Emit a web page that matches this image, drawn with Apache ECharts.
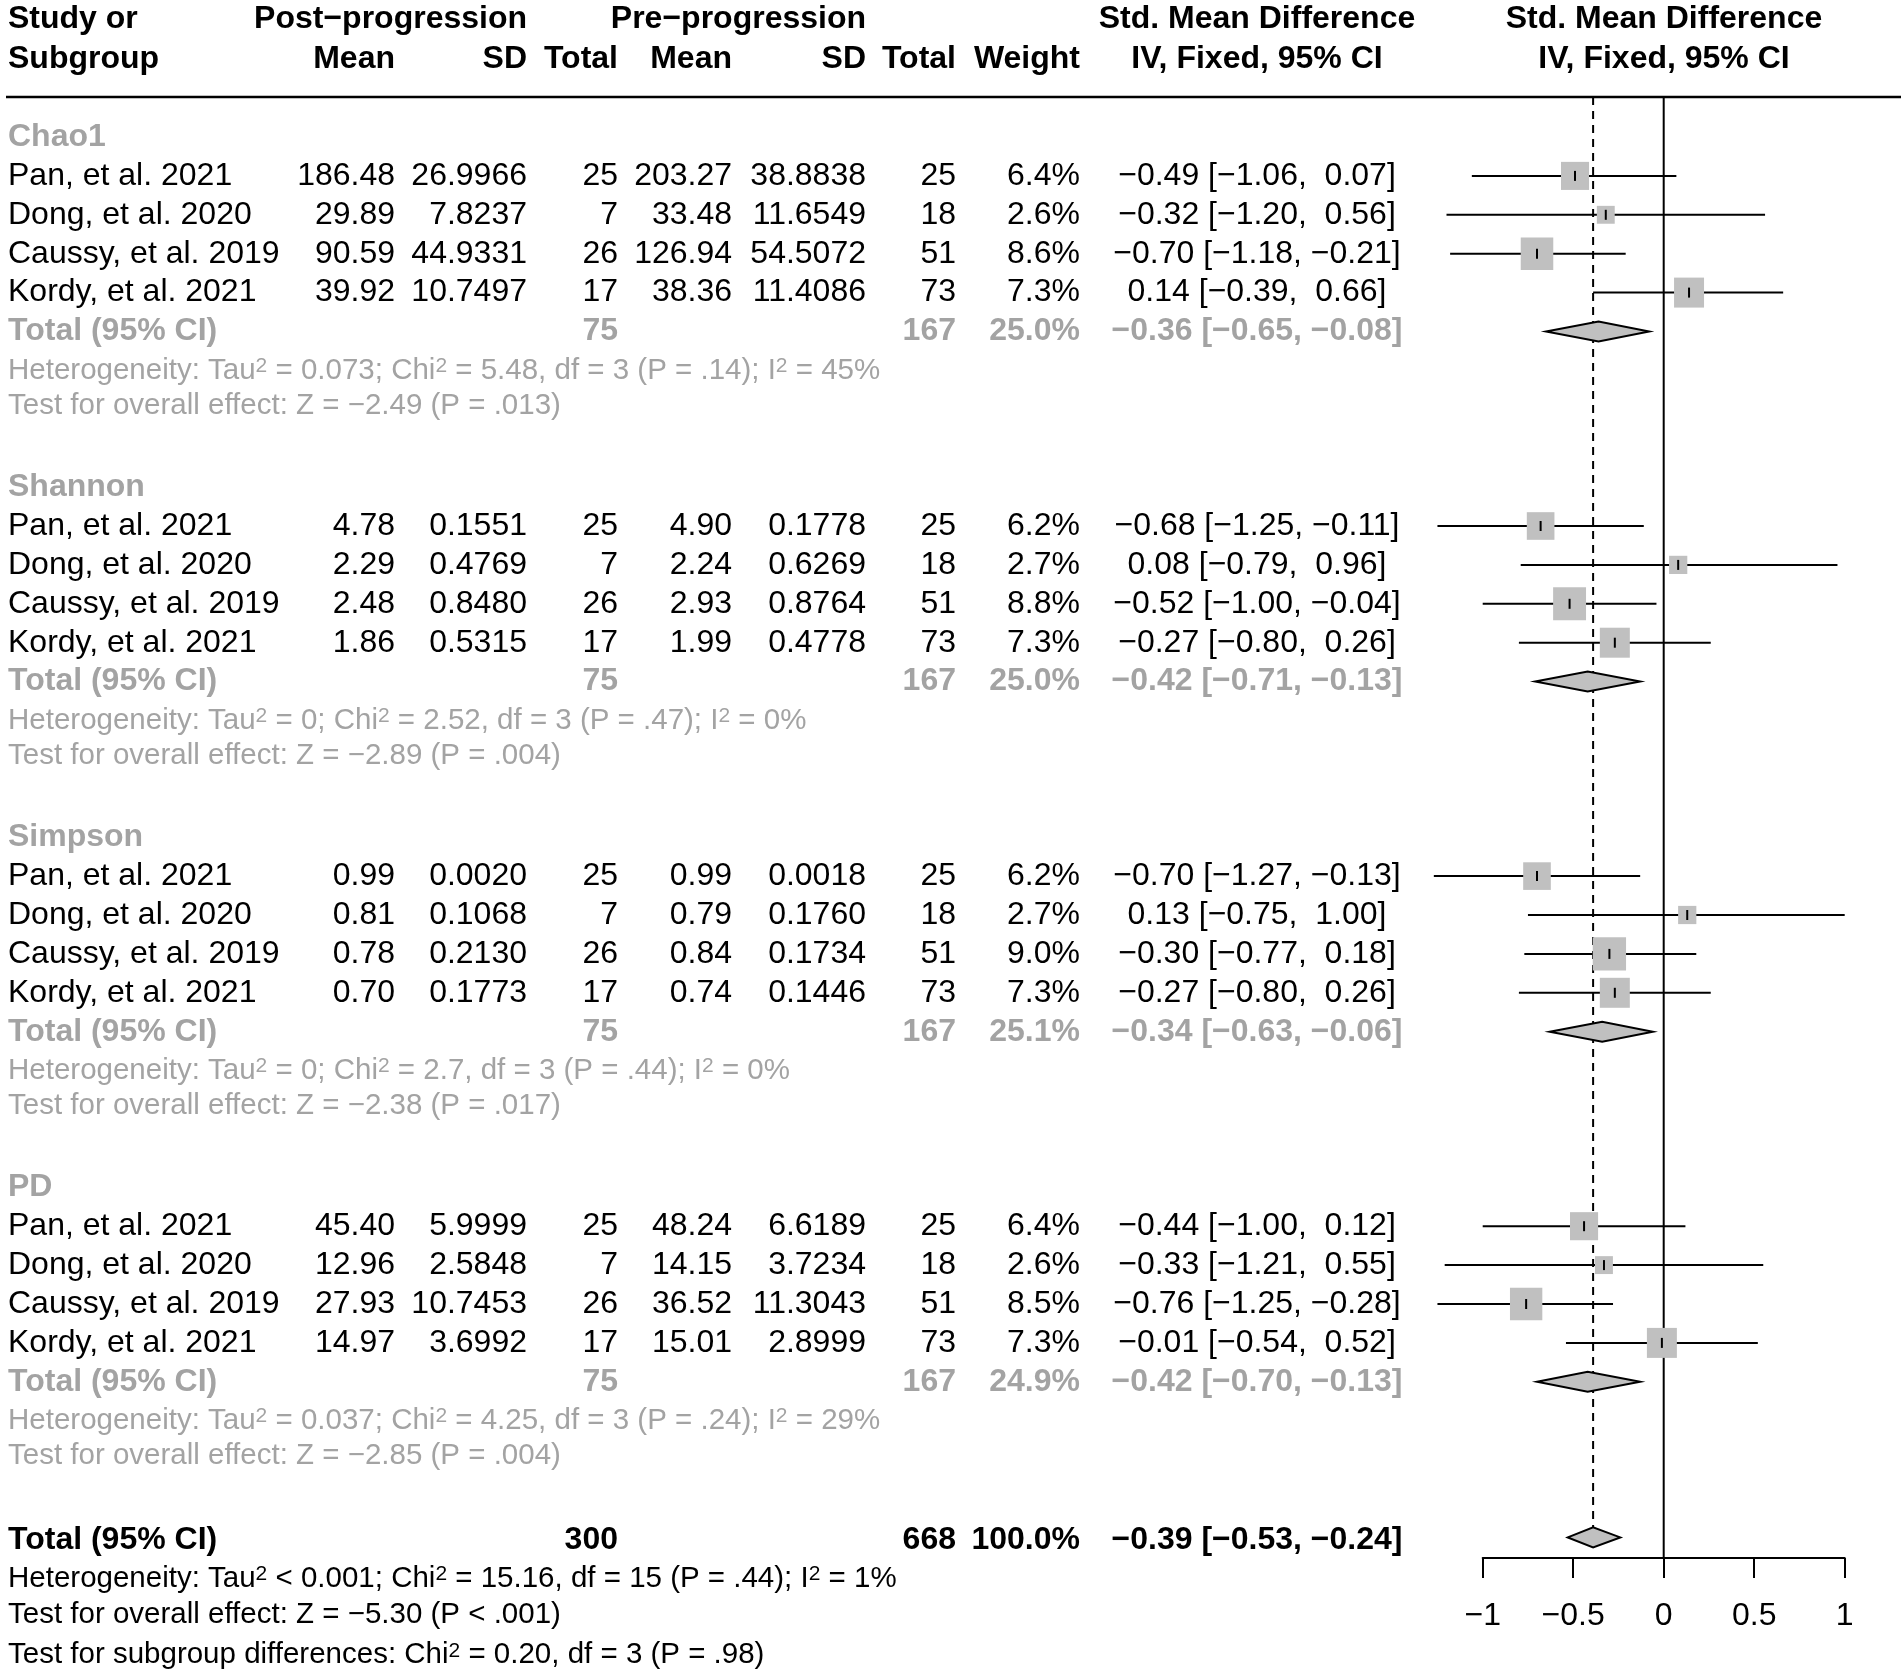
<!DOCTYPE html>
<html lang="en">
<head>
<meta charset="UTF-8" />
<title>Forest plot</title>
<style>
  html, body { margin: 0; padding: 0; background: #fff; }
  #main { width: 1901px; height: 1679px; }
</style>
</head>
<body>
<div id="main"></div>
<script src="https://cdn.jsdelivr.net/npm/echarts@6/dist/echarts.min.js"></script>
<script>
// ---- data ----
var groups = ["Chao1", "Shannon", "Simpson", "PD"];
var studies = ["Pan, et al. 2021", "Dong, et al. 2020", "Caussy, et al. 2019", "Kordy, et al. 2021"];

var postMean = [[186.48, 29.89, 90.59, 39.92], [4.78, 2.29, 2.48, 1.86], [0.99, 0.81, 0.78, 0.70], [45.40, 12.96, 27.93, 14.97]];
var postSD = [[26.9966, 7.8237, 44.9331, 10.7497], [0.1551, 0.4769, 0.8480, 0.5315], [0.0020, 0.1068, 0.2130, 0.1773], [5.9999, 2.5848, 10.7453, 3.6992]];
var postN = [25, 7, 26, 17];
var preMean = [[203.27, 33.48, 126.94, 38.36], [4.90, 2.24, 2.93, 1.99], [0.99, 0.79, 0.84, 0.74], [48.24, 14.15, 36.52, 15.01]];
var preSD = [[38.8838, 11.6549, 54.5072, 11.4086], [0.1778, 0.6269, 0.8764, 0.4778], [0.0018, 0.1760, 0.1734, 0.1446], [6.6189, 3.7234, 11.3043, 2.8999]];
var preN = [25, 18, 51, 73];
var weight = [[6.4, 2.6, 8.6, 7.3], [6.2, 2.7, 8.8, 7.3], [6.2, 2.7, 9.0, 7.3], [6.4, 2.6, 8.5, 7.3]];
var smd = [[-0.49, -0.32, -0.70, 0.14], [-0.68, 0.08, -0.52, -0.27], [-0.70, 0.13, -0.30, -0.27], [-0.44, -0.33, -0.76, -0.01]];
var smdLo = [[-1.06, -1.20, -1.18, -0.39], [-1.25, -0.79, -1.00, -0.80], [-1.27, -0.75, -0.77, -0.80], [-1.00, -1.21, -1.25, -0.54]];
var smdHi = [[0.07, 0.56, -0.21, 0.66], [-0.11, 0.96, -0.04, 0.26], [-0.13, 1.00, 0.18, 0.26], [0.12, 0.55, -0.28, 0.52]];

// subgroup totals
var groupWeight = [25.0, 25.0, 25.1, 24.9];
var groupEst = [-0.36, -0.42, -0.34, -0.42];
var groupLo = [-0.65, -0.71, -0.63, -0.70];
var groupHi = [-0.08, -0.13, -0.06, -0.13];
var groupTau2 = ["0.073", "0", "0", "0.037"];
var groupChi2 = ["5.48", "2.52", "2.7", "4.25"];
var groupDf = [3, 3, 3, 3];
var groupPhet = [".14", ".47", ".44", ".24"];
var groupI2 = [45, 0, 0, 29];
var groupZ = [-2.49, -2.89, -2.38, -2.85];
var groupPz = [".013", ".004", ".017", ".004"];

// overall
var overall = { n1: 300, n2: 668, weight: 100.0, est: -0.39, lo: -0.53, hi: -0.24 };
var overallHet = "Heterogeneity: Tau{s|2} < 0.001; Chi{s|2} = 15.16, df = 15 (P = .44); I{s|2} = 1%";
var overallTest = "Test for overall effect: Z = \u22125.30 (P < .001)";
var subgroupTest = "Test for subgroup differences: Chi{s|2} = 0.20, df = 3 (P = .98)";

var axisTicks = [-1, -0.5, 0, 0.5, 1];

// ---- layout ----
var W = 1901, H = 1679;
var ROW0 = 137, PITCH = 38.9;       // pixel y of row 0 and row pitch
var LINE_Y = 97, AXIS_Y = 1558;     // header rule and forest axis
var FONT = "'Liberation Sans', Arial, Helvetica, sans-serif";
var GREY = "#a3a3a3";
var COL = { study: 8, postMean: 395, postSD: 527, postN: 618, preMean: 732, preSD: 866, preN: 956, weight: 1080, smd: 1257, plot: 1664 };
var OVR = 36.08;                    // overall total row

function rowOf(px) { return (px - ROW0) / PITCH; }
function fmt(v, d) {
  var s = Math.abs(v).toFixed(d);
  return v < 0 ? "\u2212" + s : s;
}
function ciText(e, lo, hi) {
  var pad = function (v) { return (v >= 0 ? " " : "") + fmt(v, 2); };
  return fmt(e, 2) + " [" + pad(lo) + ", " + pad(hi) + "]";
}

var cells = [];
function cell(x, row, text, align, opt) {
  opt = opt || {};
  cells.push({ x: x, row: row, text: text, align: align, bold: !!opt.bold, color: opt.color || "#000", size: opt.size || 32 });
}

// header
var h1 = rowOf(19), h2 = rowOf(59);
var hb = { bold: true };
cell(COL.study, h1, "Study or", "left", hb);
cell(COL.postSD, h1, "Post\u2212progression", "right", hb);
cell(COL.preSD, h1, "Pre\u2212progression", "right", hb);
cell(COL.smd, h1, "Std. Mean Difference", "center", hb);
cell(COL.plot, h1, "Std. Mean Difference", "center", hb);
cell(COL.study, h2, "Subgroup", "left", hb);
cell(COL.postMean, h2, "Mean", "right", hb);
cell(COL.postSD, h2, "SD", "right", hb);
cell(COL.postN, h2, "Total", "right", hb);
cell(COL.preMean, h2, "Mean", "right", hb);
cell(COL.preSD, h2, "SD", "right", hb);
cell(COL.preN, h2, "Total", "right", hb);
cell(COL.weight, h2, "Weight", "right", hb);
cell(COL.smd, h2, "IV, Fixed, 95% CI", "center", hb);
cell(COL.plot, h2, "IV, Fixed, 95% CI", "center", hb);

var forest = [];   // [est, lo, hi, row, weight, kind] kind 0 = study, 1 = diamond
groups.forEach(function (g, gi) {
  var base = gi * 9;
  cell(COL.study, base, g, "left", { bold: true, color: GREY });
  var sum1 = 0, sum2 = 0;
  studies.forEach(function (s, si) {
    var r = base + 1 + si;
    cell(COL.study, r, s, "left");
    cell(COL.postMean, r, postMean[gi][si].toFixed(2), "right");
    cell(COL.postSD, r, postSD[gi][si].toFixed(4), "right");
    cell(COL.postN, r, String(postN[si]), "right");
    cell(COL.preMean, r, preMean[gi][si].toFixed(2), "right");
    cell(COL.preSD, r, preSD[gi][si].toFixed(4), "right");
    cell(COL.preN, r, String(preN[si]), "right");
    cell(COL.weight, r, weight[gi][si].toFixed(1) + "%", "right");
    cell(COL.smd, r, ciText(smd[gi][si], smdLo[gi][si], smdHi[gi][si]), "center");
    forest.push([smd[gi][si], smdLo[gi][si], smdHi[gi][si], r, weight[gi][si], 0]);
    sum1 += postN[si];
    sum2 += preN[si];
  });
  var tb = { bold: true, color: GREY };
  var tr = base + 5;
  cell(COL.study, tr, "Total (95% CI)", "left", tb);
  cell(COL.postN, tr, String(sum1), "right", tb);
  cell(COL.preN, tr, String(sum2), "right", tb);
  cell(COL.weight, tr, groupWeight[gi].toFixed(1) + "%", "right", tb);
  cell(COL.smd, tr, ciText(groupEst[gi], groupLo[gi], groupHi[gi]), "center", tb);
  forest.push([groupEst[gi], groupLo[gi], groupHi[gi], tr, 0, 1]);
  var hs = { color: GREY, size: 29.5 };
  cell(COL.study, base + 6.0, "Heterogeneity: Tau{s|2} = " + groupTau2[gi] + "; Chi{s|2} = " + groupChi2[gi] +
    ", df = " + groupDf[gi] + " (P = " + groupPhet[gi] + "); I{s|2} = " + groupI2[gi] + "%", "left", hs);
  cell(COL.study, base + 6.9, "Test for overall effect: Z = " + fmt(groupZ[gi], 2) + " (P = " + groupPz[gi] + ")", "left", hs);
});

// overall rows
var ob = { bold: true };
cell(COL.study, OVR, "Total (95% CI)", "left", ob);
cell(COL.postN, OVR, String(overall.n1), "right", ob);
cell(COL.preN, OVR, String(overall.n2), "right", ob);
cell(COL.weight, OVR, overall.weight.toFixed(1) + "%", "right", ob);
cell(COL.smd, OVR, ciText(overall.est, overall.lo, overall.hi), "center", ob);
forest.push([overall.est, overall.lo, overall.hi, OVR - 0.08, 0, 1]);
cell(COL.study, 37.06, overallHet, "left", { size: 29.5 });
cell(COL.study, 37.98, overallTest, "left", { size: 29.5 });
cell(COL.study, 39.03, subgroupTest, "left", { size: 29.5 });

// vertical reference lines: no effect, and overall estimate (dashed, stops at the diamond)
var refLines = [
  [0, rowOf(LINE_Y), rowOf(AXIS_Y), 0],
  [overall.est, rowOf(LINE_Y), OVR - 0.08 - 10 / PITCH, 1]
];

function renderCell(params, api) {
  var c = cells[params.dataIndex];
  var p = api.coord([api.value(0), api.value(1)]);
  var style = {
    text: c.text,
    font: (c.bold ? "bold " : "") + c.size + "px " + FONT,
    fill: c.color,
    align: c.align,
    verticalAlign: "middle",
    lineHeight: c.size,
    rich: {
      s: { font: Math.round(c.size * 0.72) + "px " + FONT, fill: c.color, lineHeight: 4, verticalAlign: "top" }
    }
  };
  return { type: "text", x: p[0], y: p[1], style: style };
}

function renderRef(params, api) {
  var a = api.coord([api.value(0), api.value(1)]);
  var b = api.coord([api.value(0), api.value(2)]);
  return {
    type: "line",
    shape: { x1: a[0], y1: a[1], x2: b[0], y2: b[1] },
    style: { stroke: "#000", lineWidth: 2, lineDash: api.value(3) ? [8, 6] : null }
  };
}

function renderForest(params, api) {
  var est = api.value(0), lo = api.value(1), hi = api.value(2), row = api.value(3);
  var c = api.coord([est, row]), a = api.coord([lo, row]), b = api.coord([hi, row]);
  if (api.value(5) === 0) {
    var side = 11.1 * Math.sqrt(api.value(4));
    return {
      type: "group",
      children: [
        { type: "line", shape: { x1: a[0], y1: a[1], x2: b[0], y2: b[1] }, style: { stroke: "#000", lineWidth: 2 } },
        { type: "rect", shape: { x: c[0] - side / 2, y: c[1] - side / 2, width: side, height: side }, style: { fill: "#c0c0c0" } },
        { type: "line", shape: { x1: c[0], y1: c[1] - 5, x2: c[0], y2: c[1] + 5 }, style: { stroke: "#000", lineWidth: 2 } }
      ]
    };
  }
  return {
    type: "polygon",
    shape: { points: [[a[0], a[1]], [c[0], c[1] - 10], [b[0], b[1]], [c[0], c[1] + 10]] },
    style: { fill: "#c0c0c0", stroke: "#000", lineWidth: 2 }
  };
}

var myChart = echarts.init(document.getElementById("main"));
var option = {
  backgroundColor: "#fff",
  animation: false,
  grid: [
    { left: 0, top: 0, width: W, height: H, outerBoundsMode: "none" },
    { left: 1482.7, top: LINE_Y, width: 362, height: AXIS_Y - LINE_Y, outerBoundsMode: "none" }
  ],
  xAxis: [
    { gridIndex: 0, type: "value", min: 0, max: W, show: false },
    {
      gridIndex: 1, type: "value", min: axisTicks[0], max: axisTicks[axisTicks.length - 1], interval: 0.5,
      axisLine: { show: true, onZero: false, lineStyle: { color: "#000", width: 2 } },
      axisTick: { show: true, length: 20, lineStyle: { color: "#000", width: 2 } },
      axisLabel: {
        color: "#000", fontSize: 32, fontFamily: FONT, margin: 42,
        formatter: function (v) { return v < 0 ? "\u2212" + Math.abs(v) : String(v); }
      },
      splitLine: { show: false }
    }
  ],
  yAxis: [
    { gridIndex: 0, type: "value", inverse: true, min: rowOf(0), max: rowOf(H), show: false },
    { gridIndex: 1, type: "value", inverse: true, min: rowOf(LINE_Y), max: rowOf(AXIS_Y), show: false }
  ],
  graphic: [
    { type: "line", shape: { x1: 6, y1: LINE_Y, x2: W, y2: LINE_Y }, style: { stroke: "#000", lineWidth: 2.5 } }
  ],
  series: [
    {
      type: "custom", name: "table", xAxisIndex: 0, yAxisIndex: 0, z: 2,
      data: cells.map(function (c) { return [c.x, c.row]; }),
      renderItem: renderCell
    },
    {
      type: "custom", name: "reference", xAxisIndex: 1, yAxisIndex: 1, z: 1,
      data: refLines, renderItem: renderRef
    },
    {
      type: "custom", name: "forest", xAxisIndex: 1, yAxisIndex: 1, z: 3,
      data: forest, renderItem: renderForest
    }
  ]
};
myChart.setOption(option);
</script>
</body>
</html>
